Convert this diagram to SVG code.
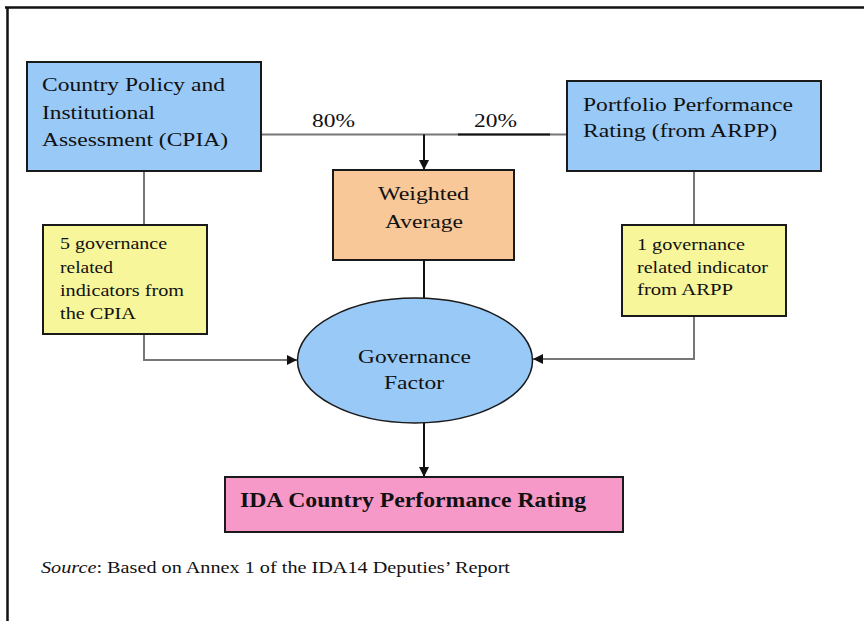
<svg xmlns="http://www.w3.org/2000/svg" width="864" height="621" viewBox="0 0 864 621">
<style>
text{font-family:"Liberation Serif","Times New Roman",serif;fill:#111;}
.t{font-size:19px;}
.s{font-size:17px;}
.box{stroke:#1a1a1a;stroke-width:2;}
.blue{fill:#99C9F6;}
.gray{stroke:#777;stroke-width:2;fill:none;}
.blk{stroke:#111;stroke-width:2;fill:none;}
</style>
<defs>
<marker id="ah" viewBox="0 0 10 10" refX="10" refY="5" markerWidth="10" markerHeight="10" markerUnits="userSpaceOnUse" orient="auto">
<path d="M0,0 L10,5 L0,10 z" fill="#111"/>
</marker>
</defs>
<rect width="864" height="621" fill="#fff"/>
<g id="frame">
<line x1="5" y1="7.5" x2="864" y2="7.5" stroke="#111" stroke-width="2.5"/>
<line x1="7.5" y1="7" x2="7.5" y2="621" stroke="#111" stroke-width="2.5"/>
</g>
<g id="connectors">
<line class="gray" x1="261" y1="134.5" x2="567" y2="134.5"/>
<line class="blk" x1="458" y1="134.5" x2="550" y2="134.5"/>
<line class="blk" x1="424" y1="134.5" x2="424" y2="170" marker-end="url(#ah)"/>
<line class="blk" x1="424" y1="260" x2="424" y2="298"/>
<line class="gray" x1="144" y1="171" x2="144" y2="225"/>
<polyline class="gray" points="144,334 144,360 297,360" marker-end="url(#ah)"/>
<line class="gray" x1="694" y1="171" x2="694" y2="225"/>
<polyline class="gray" points="694,316 694,359 533,359" marker-end="url(#ah)"/>
<line class="blk" x1="424" y1="423" x2="424" y2="477" marker-end="url(#ah)"/>
</g>
<g id="cpia">
<rect class="box blue" x="27" y="62" width="234" height="109"/>
<text class="t" x="42" y="91" textLength="183" lengthAdjust="spacingAndGlyphs">Country Policy and</text>
<text class="t" x="42" y="119" textLength="113" lengthAdjust="spacingAndGlyphs">Institutional</text>
<text class="t" x="42" y="146" textLength="186" lengthAdjust="spacingAndGlyphs">Assessment (CPIA)</text>
</g>
<g id="weights">
<text class="t" x="312" y="127" textLength="43" lengthAdjust="spacingAndGlyphs">80%</text>
<text class="t" x="474" y="127" textLength="43" lengthAdjust="spacingAndGlyphs">20%</text>
</g>
<g id="ppr">
<rect class="box blue" x="567" y="81" width="254" height="90"/>
<text class="t" x="583" y="111" textLength="210" lengthAdjust="spacingAndGlyphs">Portfolio Performance</text>
<text class="t" x="583" y="137" textLength="194" lengthAdjust="spacingAndGlyphs">Rating (from ARPP)</text>
</g>
<g id="weighted">
<rect class="box" fill="#F8C898" x="333" y="170" width="181" height="90"/>
<text class="t" x="378" y="200" textLength="91" lengthAdjust="spacingAndGlyphs">Weighted</text>
<text class="t" x="385" y="228" textLength="78" lengthAdjust="spacingAndGlyphs">Average</text>
</g>
<g id="cpia-ind">
<rect class="box" fill="#F8F69A" x="43" y="225" width="164" height="109"/>
<text class="s" x="60" y="249" textLength="107" lengthAdjust="spacingAndGlyphs">5 governance</text>
<text class="s" x="60" y="273" textLength="53" lengthAdjust="spacingAndGlyphs">related</text>
<text class="s" x="60" y="296" textLength="124" lengthAdjust="spacingAndGlyphs">indicators from</text>
<text class="s" x="60" y="319" textLength="76" lengthAdjust="spacingAndGlyphs">the CPIA</text>
</g>
<g id="arpp-ind">
<rect class="box" fill="#F8F69A" x="622" y="225" width="164" height="91"/>
<text class="s" x="637" y="250" textLength="108" lengthAdjust="spacingAndGlyphs">1 governance</text>
<text class="s" x="637" y="273" textLength="131" lengthAdjust="spacingAndGlyphs">related indicator</text>
<text class="s" x="637" y="295" textLength="96" lengthAdjust="spacingAndGlyphs">from ARPP</text>
</g>
<g id="governance">
<ellipse class="blue" cx="415" cy="360.5" rx="117.5" ry="62.5" stroke="#1a1a1a" stroke-width="1.5"/>
<text class="t" x="358" y="363" textLength="113" lengthAdjust="spacingAndGlyphs">Governance</text>
<text class="t" x="384" y="389" textLength="60" lengthAdjust="spacingAndGlyphs">Factor</text>
</g>
<g id="ida">
<rect class="box" fill="#F799C8" x="225" y="477" width="398" height="55"/>
<text x="240" y="507" font-size="20" font-weight="bold" textLength="346" lengthAdjust="spacingAndGlyphs">IDA Country Performance Rating</text>
</g>
<g id="source">
<text x="41" y="573" font-size="17" textLength="469" lengthAdjust="spacingAndGlyphs"><tspan font-style="italic">Source</tspan>: Based on Annex 1 of the IDA14 Deputies’ Report</text>
</g>
</svg>
